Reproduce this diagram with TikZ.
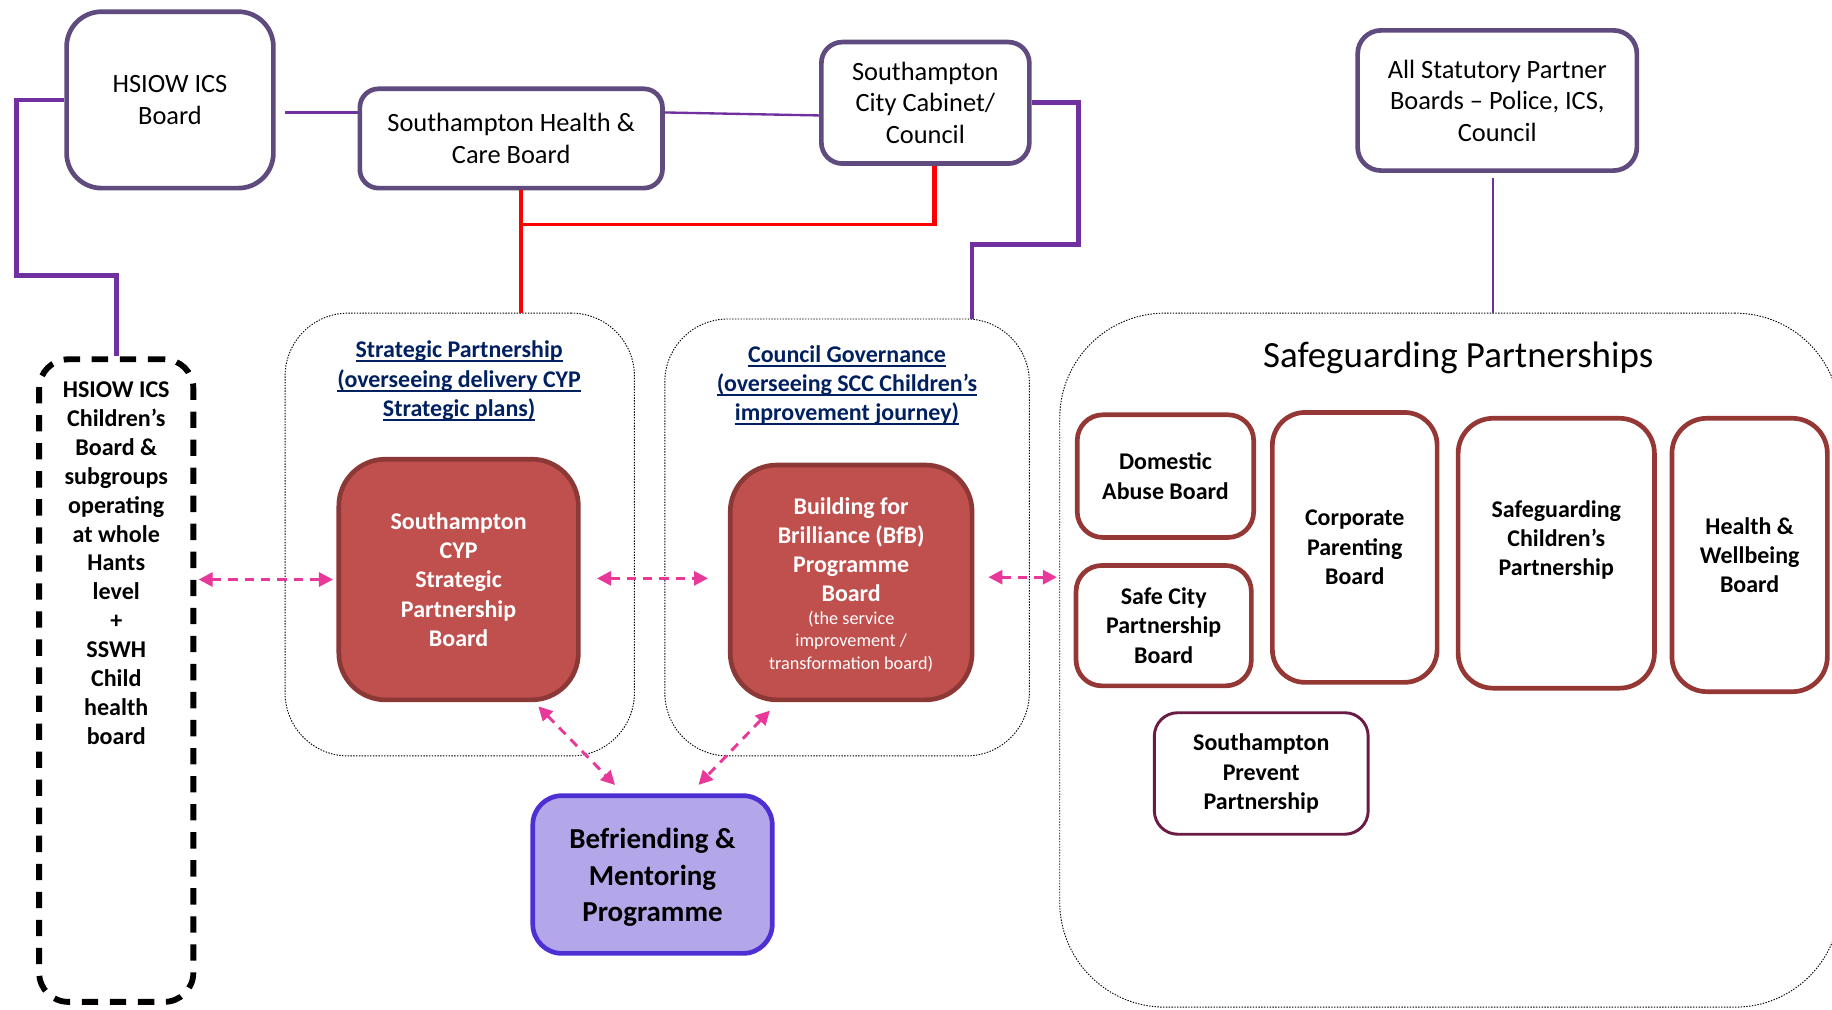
\documentclass[tikz,border=0pt]{standalone}
\usepackage{fontspec}
\setmainfont{Carlito}
\usetikzlibrary{arrows.meta,calc}
\definecolor{topc}{HTML}{5F4B7E}
\definecolor{purp}{HTML}{7030A0}
\definecolor{cypfill}{HTML}{C0504D}
\definecolor{cypdraw}{HTML}{8C3836}
\definecolor{sgdraw}{HTML}{953735}
\definecolor{prevdraw}{HTML}{6A1B45}
\definecolor{beffill}{HTML}{B4A7E9}
\definecolor{befdraw}{HTML}{4E2FD3}
\definecolor{navy}{HTML}{002060}
\definecolor{arrpink}{HTML}{E8399A}
\newcommand\tul[1]{\setbox0\hbox{#1}\rlap{\rule[-1.9pt]{\wd0}{0.85pt}}\box0}
\tikzset{
 topbox/.style={draw=topc, line width=2pt, fill=white, align=center, inner sep=0pt, font=\fontsize{11.3}{13.5}\selectfont},
 redbox/.style={draw=cypdraw, fill=cypfill, line width=2pt, rounded corners=20pt, text=white, align=center, inner sep=0pt, font=\bfseries\fontsize{10.25}{12.5}\selectfont},
 sgbox/.style={draw=sgdraw, line width=2pt, fill=white, align=center, inner sep=0pt, font=\bfseries\fontsize{10.25}{12.5}\selectfont},
 container/.style={draw=black, line width=0.4pt, dash pattern=on 0.6pt off 0.6pt},
 titletext/.style={text=navy, align=center, inner sep=0pt, font=\bfseries\fontsize{10.25}{12.5}\selectfont},
 purpthick/.style={draw=purp, line width=2pt},
 purpthin/.style={draw=purp, line width=1pt},
 redthick/.style={draw=red, line width=2pt},
 redthin/.style={draw=red, line width=1pt},
 pinkarrow/.style={draw=arrpink, line width=1.25pt, dash pattern=on 4pt off 3pt,
   {Triangle[length=6pt,width=6pt,fill=arrpink]}-{Triangle[length=6pt,width=6pt,fill=arrpink]}},
}
\begin{document}
\begin{tikzpicture}[x=0.5pt,y=-0.5pt]
\useasboundingbox (0,0) rectangle (1568,864);
\fill[white] (0,0) rectangle (1568,864);

% containers
\node[container, rounded corners=27pt, minimum width=149.5pt, minimum height=189.5pt] (strat) at (393.5,457.5) {};
\node[container, rounded corners=27pt, minimum width=156pt, minimum height=187pt] (council) at (725,460) {};
\node[container, rounded corners=45pt, minimum width=334pt, minimum height=297pt] (safeguard) at (1241,565) {};

\node[titletext] (strattitle) at (393,326) {\tul{Strategic Partnership}\\\tul{(overseeing delivery CYP}\\\tul{Strategic plans)}};
\node[titletext] (counciltitle) at (725,330) {\tul{Council Governance}\\\tul{(overseeing SCC Children’s}\\\tul{improvement journey)}};
\node[inner sep=0pt, font=\fontsize{15.8}{19}\selectfont] (sgtitle) at (1248,306) {Safeguarding Partnerships};

% top boxes
\node[topbox, rounded corners=15pt, minimum width=88.5pt, minimum height=75.5pt] (hsiow) at (145.5,85.5) {HSIOW ICS\\Board};
\node[topbox, rounded corners=8pt, minimum width=129.5pt, minimum height=42.5pt] (hc) at (437.5,118.5) {Southampton Health \&\\Care Board};
\node[topbox, rounded corners=9pt, minimum width=89pt, minimum height=52pt] (cab) at (792,88) {Southampton\\City Cabinet/\\Council};
\node[topbox, rounded corners=10pt, minimum width=119.5pt, minimum height=60pt] (allstat) at (1281.5,86) {All Statutory Partner\\Boards – Police, ICS,\\Council};

% dashed box
\node[draw=black, line width=2.5pt, dash pattern=on 7pt off 5pt, rounded corners=12.5pt, minimum width=66pt, minimum height=275pt] (dashed) at (99.5,582.5) {};
\node[align=center, inner sep=0pt, font=\bfseries\fontsize{10.3}{12.35}\selectfont] (dashtext) at (99.5,482) {HSIOW ICS\\Children’s\\Board \&\\subgroups\\operating\\at whole\\Hants\\level\\+\\SSWH\\Child\\health\\board};

% red boxes
\node[redbox, minimum width=102.5pt, minimum height=103pt] (cyp) at (392.5,496) {Southampton\\CYP\\Strategic\\Partnership\\Board};
\node[redbox, minimum width=103.5pt, minimum height=100.5pt] (bfb) at (728.5,498.5) {};
\node[align=center, inner sep=0pt, text=white, font=\bfseries\fontsize{10.25}{12.5}\selectfont] (bfbtext) at (728.5,470.5) {Building for\\Brilliance (BfB)\\Programme\\Board};
\node[align=center, inner sep=0pt, text=white, font=\fontsize{7.8}{9.5}\selectfont] (bfbsmall) at (728.5,549) {(the service\\improvement /\\transformation board)};

% befriending
\node[draw=befdraw, fill=beffill, line width=2pt, rounded corners=12.5pt, minimum width=102.5pt, minimum height=67.5pt] (bef) at (558.5,748.5) {};
\node[align=center, inner sep=0pt, font=\bfseries\fontsize{12.4}{15.5}\selectfont] (beftext) at (558.5,751) {Befriending \&\\Mentoring\\Programme};

% safeguarding boxes
\node[sgbox, rounded corners=11pt, minimum width=75.5pt, minimum height=52.5pt] (dom) at (997.5,407.5) {Domestic\\Abuse Board};
\node[sgbox, rounded corners=11pt, minimum width=75pt, minimum height=51.5pt] (safecity) at (996,535.5) {Safe City\\Partnership\\Board};
\node[sgbox, rounded corners=14pt, minimum width=70.5pt, minimum height=115.5pt] (corp) at (1159.5,468.5) {Corporate\\Parenting\\Board};
\node[sgbox, rounded corners=15pt, minimum width=84pt, minimum height=115.5pt] (scp) at (1332,473.5) {};
\node[align=center, inner sep=0pt, font=\bfseries\fontsize{10.25}{12.5}\selectfont] (scptext) at (1332,462) {Safeguarding\\Children’s\\Partnership};
\node[sgbox, rounded corners=15pt, minimum width=66.5pt, minimum height=117pt] (hwb) at (1497.5,475) {Health \&\\Wellbeing\\Board};
\node[sgbox, draw=prevdraw, line width=1.25pt, rounded corners=10pt, minimum width=91.5pt, minimum height=52pt] (prevent) at (1079.5,662) {Southampton\\Prevent\\Partnership};

% connectors
\coordinate (hcL) at ($(hc.north west)!0.25!(hc.south west)$);
\coordinate (hcR) at ($(hc.north east)!0.25!(hc.south east)$);
\coordinate (cabL) at ($(cab.north west)!0.6!(cab.south west)$);
\draw[purpthin, shorten <=4pt] (hsiow.east |- hcL) -- (hcL);
\draw[purpthin] (hcR) -- (cabL);

\coordinate (p1) at (14,236);
\draw[purpthick] (hsiow.west) -| (p1) -| (dashed.north);
\coordinate (p2) at (923,209);
\coordinate (p3) at (832,273);
\draw[purpthick] (cab.east) -| (p2) -| (p3);

\coordinate (rt) at (446,192);
\coordinate (rv) at (800,192);
\draw[redthick] (hc.south -| rt) -- (strat.north -| rt);
\draw[redthin] (rt) -- (rv);
\draw[redthick] (cab.south -| rv) -- ([yshift=-0.5pt]rv);

\coordinate (sv) at (1278,0);
\draw[purpthin] ([yshift=-2pt]allstat.south -| sv) -- (safeguard.north -| sv);

% pink arrows
\draw[pinkarrow, shorten <=1pt, shorten >=1.5pt] (dashed.east |- cyp.west) -- (cyp.west);
\draw[pinkarrow, shorten <=7pt, shorten >=8.5pt] (cyp.east |- 0,495) -- (bfb.west |- 0,495);
\draw[pinkarrow, shorten <=6pt, shorten >=1pt] (bfb.east |- 0,494) -- (safeguard.west |- 0,494);
\coordinate (c1) at ($(cyp.south)!0.62!(cyp.south east)$);
\coordinate (b1) at ($(bef.north west)!0.38!(bef.north east)$);
\draw[pinkarrow, shorten <=2.5pt, shorten >=5pt] (c1) -- (b1);
\coordinate (c2) at ($(bfb.south west)!0.203!(bfb.south east)$);
\coordinate (b2) at ($(bef.north west)!0.655!(bef.north east)$);
\draw[pinkarrow, shorten <=5pt, shorten >=5pt] (c2) -- (b2);
\end{tikzpicture}
\end{document}
